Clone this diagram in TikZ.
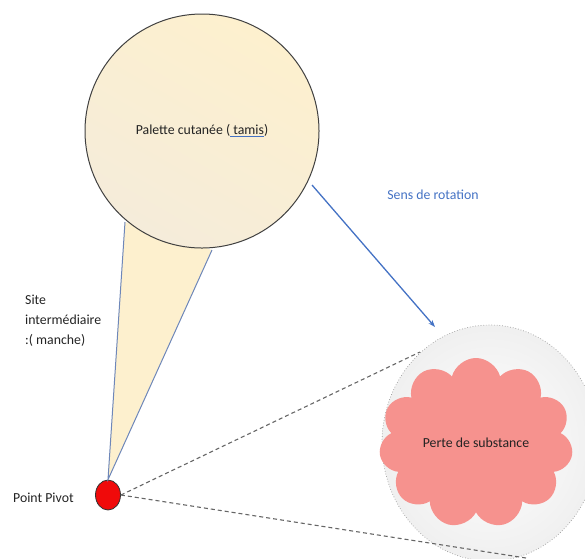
\documentclass[tikz,border=0pt]{standalone}
\usepackage{fontspec}
\setmainfont{Carlito}
\usetikzlibrary{arrows.meta,shapes.geometric,shapes.symbols}
\definecolor{palettefill}{RGB}{253,240,206}
\definecolor{paletteshade}{RGB}{245,236,218}
\definecolor{handleline}{RGB}{110,135,185}
\definecolor{rotblue}{RGB}{68,114,196}
\definecolor{cloudpink}{RGB}{246,146,142}
\definecolor{pivotred}{RGB}{240,10,10}
\definecolor{txtgray}{RGB}{35,35,35}
\newcommand\spellline[1]{\setbox0\hbox{#1}\rlap{\color{rotblue}\rule[-2.5pt]{\wd0}{1.2pt}}\box0}
\tikzset{
	label text/.style={font=\fontsize{13.8}{20}\selectfont, text=txtgray, inner sep=0pt},
	dash line/.style={line width=1.1pt, color=black!60, dash pattern=on 4pt off 3pt},
}

\begin{document}
\begin{tikzpicture}[x=1pt, y=-1pt]
		%%%%% START %%%%%
		\useasboundingbox (0, 0) rectangle (585, 558);
		\clip (0, 0) rectangle (585, 558);
		
		% manche
		\node[ellipse, draw=black!80, fill=pivotred, line width=0.8pt, minimum width=25pt, minimum height=30pt, inner sep=0pt] (pivot) at (108, 495) {};
		\coordinate (hl) at (125, 222);
		\coordinate (hr) at (212, 250);
		\fill[palettefill] (hl) -- (hr) -- (pivot.north) -- cycle;
		\draw[handleline, line width=1pt] (hl) -- (pivot.north) -- (hr);
		
		% palette
		\node[circle, draw=black!75, line width=1pt, top color=palettefill, bottom color=paletteshade, shading angle=-30, minimum size=234pt, label text] (palette) at (202, 131) {Palette cutanée (\spellline{ tamis})};
		
		% zone de perte
		\node[ellipse, draw=black!40, dotted, line width=0.7pt, inner color=white, outer color=black!6, minimum width=216pt, minimum height=236pt] (zone) at (490, 443) {};
		\node[cloud, cloud puffs=11, aspect=1.1, fill=cloudpink, minimum width=194pt, minimum height=170pt, label text] (perte) at (476, 443) {Perte de substance};
		
		% sens de rotation
		\coordinate (rotA) at (312, 185);
		\coordinate (rotB) at (435, 327);
		\draw[rotblue, line width=1.3pt, -{Stealth[length=7pt, width=5pt]}] (rotA) -- (rotB);
		\node[label text, text=rotblue] (sens) at (433, 195) {Sens de rotation};
		
		% projections
		\coordinate (tanA) at (420, 352);
		\coordinate (tanB) at (526, 558);
		\draw[dash line] (pivot.east) -- (tanA);
		\draw[dash line] (pivot.east) -- (tanB);
		
		% textes
		\node[label text, align=left, anchor=north west] (site) at (25, 295) {Site\\intermédiaire\\:( manche)};
		\node[label text, anchor=west] (pivotlab) at (13, 498) {Point Pivot};
		%%%%% END %%%%%
	\end{tikzpicture}
\end{document}
